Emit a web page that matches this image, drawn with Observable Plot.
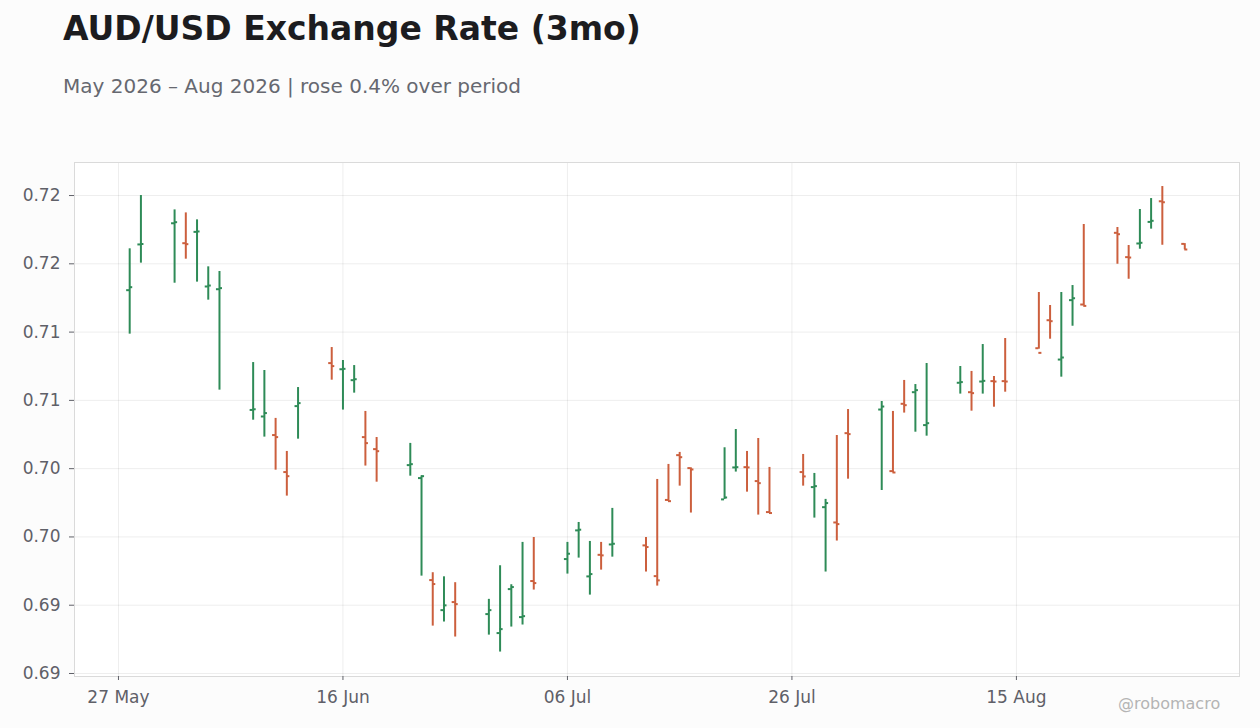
<!DOCTYPE html>
<html><head><meta charset="utf-8">
<script src="https://cdn.jsdelivr.net/npm/d3@7"></script>
<script src="https://cdn.jsdelivr.net/npm/@observablehq/plot@0.6"></script>
<style>
body{margin:0;background:#fcfcfc;font-family:"DejaVu Sans",sans-serif;}
#wrap{position:relative;width:1260px;height:728px;overflow:hidden;}
#head{position:relative;height:130px;}
#title{position:absolute;left:63px;top:12px;font-size:33px;line-height:33px;font-weight:bold;color:#1c1c1f;white-space:nowrap;}
#sub{position:absolute;left:63px;top:76px;font-size:20px;line-height:20px;color:#666870;white-space:nowrap;}
#wm{position:absolute;left:1118px;top:696px;font-size:16px;line-height:16px;color:#b4b4b4;white-space:nowrap;}
</style></head>
<body>
<div id="wrap">
  <div id="head">
    <div id="title">AUD/USD Exchange Rate (3mo)</div>
    <div id="sub">May 2026 – Aug 2026 | rose 0.4% over period</div>
  </div>
  <div id="chart"></div>
  <div id="wm">@robomacro</div>
</div>
<script>
const dates = [
  "2026-05-28","2026-05-29",
  "2026-06-01","2026-06-02","2026-06-03","2026-06-04","2026-06-05",
  "2026-06-08","2026-06-09","2026-06-10","2026-06-11","2026-06-12",
  "2026-06-15","2026-06-16","2026-06-17","2026-06-18","2026-06-19",
  "2026-06-22","2026-06-23","2026-06-24","2026-06-25","2026-06-26",
  "2026-06-29","2026-06-30","2026-07-01","2026-07-02","2026-07-03",
  "2026-07-06","2026-07-07","2026-07-08","2026-07-09","2026-07-10",
  "2026-07-13","2026-07-14","2026-07-15","2026-07-16","2026-07-17",
  "2026-07-20","2026-07-21","2026-07-22","2026-07-23","2026-07-24",
  "2026-07-27","2026-07-28","2026-07-29","2026-07-30","2026-07-31",
  "2026-08-03","2026-08-04","2026-08-05","2026-08-06","2026-08-07",
  "2026-08-10","2026-08-11","2026-08-12","2026-08-13","2026-08-14",
  "2026-08-17","2026-08-18","2026-08-19","2026-08-20","2026-08-21",
  "2026-08-24","2026-08-25","2026-08-26","2026-08-27","2026-08-28",
  "2026-08-30"
];
const opens = [
  0.71807,0.72142,
  0.72297,0.72151,0.72234,0.71834,0.71814,
  0.70930,0.70882,0.70746,0.70475,0.70958,
  0.71273,0.71228,0.71148,0.70731,0.70643,
  0.70526,0.70431,0.69684,0.69464,0.69523,
  0.69435,0.69296,0.69618,0.69413,0.69677,
  0.69838,0.70048,0.69711,0.69869,0.69945,
  0.69938,0.69713,0.70271,0.70599,0.70504,
  0.70275,0.70509,0.70511,0.70409,0.70182,
  0.70475,0.70365,0.70218,0.70106,0.70760,
  0.70933,0.70482,0.70975,0.71060,0.70819,
  0.71129,0.71060,0.71138,0.71141,0.71141,
  0.71382,0.71587,0.71299,0.71734,0.71702,
  0.72227,0.72049,0.72149,0.72307,0.72458,
  0.72146
];
const highs = [
  0.72110,0.72500,
  0.72395,0.72373,0.72322,0.71978,0.71944,
  0.71277,0.71219,0.70868,0.70626,0.71094,
  0.71387,0.71292,0.71255,0.70919,0.70728,
  0.70685,0.70447,0.69738,0.69708,0.69665,
  0.69543,0.69789,0.69650,0.69960,0.69996,
  0.69960,0.70106,0.69967,0.69960,0.70209,
  0.69996,0.70421,0.70531,0.70619,0.70506,
  0.70653,0.70787,0.70626,0.70721,0.70509,
  0.70604,0.70465,0.70275,0.70743,0.70933,
  0.70992,0.70919,0.71146,0.71116,0.71270,
  0.71248,0.71212,0.71409,0.71175,0.71453,
  0.71790,0.71695,0.71790,0.71841,0.72288,
  0.72266,0.72134,0.72398,0.72478,0.72566,
  0.72148
];
const lows = [
  0.71485,0.72005,
  0.71858,0.72034,0.71866,0.71734,0.71075,
  0.70855,0.70731,0.70489,0.70299,0.70716,
  0.71148,0.70929,0.71053,0.70519,0.70401,
  0.70445,0.69713,0.69347,0.69377,0.69267,
  0.69281,0.69157,0.69340,0.69355,0.69611,
  0.69728,0.69845,0.69574,0.69757,0.69852,
  0.69743,0.69640,0.70260,0.70372,0.70175,
  0.70275,0.70475,0.70328,0.70160,0.70175,
  0.70372,0.70138,0.69743,0.69970,0.70423,
  0.70340,0.70470,0.70907,0.70767,0.70738,
  0.71046,0.70921,0.71046,0.70950,0.71060,
  0.71375,0.71448,0.71170,0.71543,0.71692,
  0.71997,0.71887,0.72107,0.72254,0.72136,
  0.72103
];
const closes = [
  0.71829,0.72145,
  0.72305,0.72144,0.72237,0.71841,0.71822,
  0.70935,0.70907,0.70731,0.70445,0.70980,
  0.71251,0.71231,0.71155,0.70687,0.70628,
  0.70533,0.70445,0.69655,0.69499,0.69508,
  0.69464,0.69325,0.69633,0.69420,0.69662,
  0.69877,0.70053,0.69728,0.69865,0.69950,
  0.69926,0.69682,0.70262,0.70584,0.70494,
  0.70289,0.70511,0.70509,0.70394,0.70175,
  0.70443,0.70372,0.70248,0.70094,0.70753,
  0.70955,0.70472,0.70965,0.71075,0.70833,
  0.71134,0.71053,0.71143,0.71138,0.71138,
  0.71348,0.71580,0.71314,0.71748,0.71692,
  0.72217,0.72046,0.72154,0.72315,0.72451,
  0.72105
];
const xTicks = ["2026-05-27","2026-06-16","2026-07-06","2026-07-26","2026-08-15"];
const yTicks = [0.690,0.695,0.700,0.705,0.710,0.715,0.720,0.725];
const xDomain = ["2026-05-23T02:00:00Z","2026-09-03T21:00:00Z"];
const yDomain = [0.68978,0.72742];
const UP = "#2e8b57";
const DOWN = "#cc5f3d";

const DAY = 864e5;
const data = dates.map((d, i) => ({
  date: new Date(d + "T00:00:00Z"),
  open: opens[i], high: highs[i], low: lows[i], close: closes[i],
  color: closes[i] >= opens[i] ? UP : DOWN
}));
const xTickDates = xTicks.map(d => new Date(d + "T00:00:00Z"));

const chart = Plot.plot({
  width: 1260, height: 598,
  marginTop: 32, marginBottom: 52, marginLeft: 74, marginRight: 21,
  style: {fontFamily: "DejaVu Sans", fontSize: "17px", color: "#5f6068", background: "transparent", overflow: "visible"},
  x: {type: "utc", domain: xDomain.map(d => new Date(d))},
  y: {domain: yDomain},
  color: {type: "identity"},
  marks: [
    Plot.frame({fill: "white", stroke: "none"}),
    Plot.gridX(xTickDates, {stroke: "#000", strokeOpacity: 0.07}),
    Plot.gridY(yTicks, {stroke: "#000", strokeOpacity: 0.07}),
    Plot.frame({stroke: "#dadada"}),
    Plot.axisY(yTicks, {tickFormat: d3.format(".2f"), tickSize: 5, tickPadding: 9, label: null}),
    Plot.axisX(xTickDates, {tickFormat: d3.utcFormat("%d %b"), tickSize: 4, tickPadding: 10, label: null}),
    Plot.ruleX(data, {x: "date", y1: "low", y2: "high", stroke: "color", strokeWidth: 2}),
    Plot.ruleY(data, {y: "open", x1: d => new Date(+d.date - 0.27 * DAY), x2: "date", stroke: "color", strokeWidth: 2}),
    Plot.ruleY(data, {y: "close", x1: "date", x2: d => new Date(+d.date + 0.27 * DAY), stroke: "color", strokeWidth: 2})
  ]
});
document.getElementById("chart").appendChild(chart);
</script>
</body></html>
